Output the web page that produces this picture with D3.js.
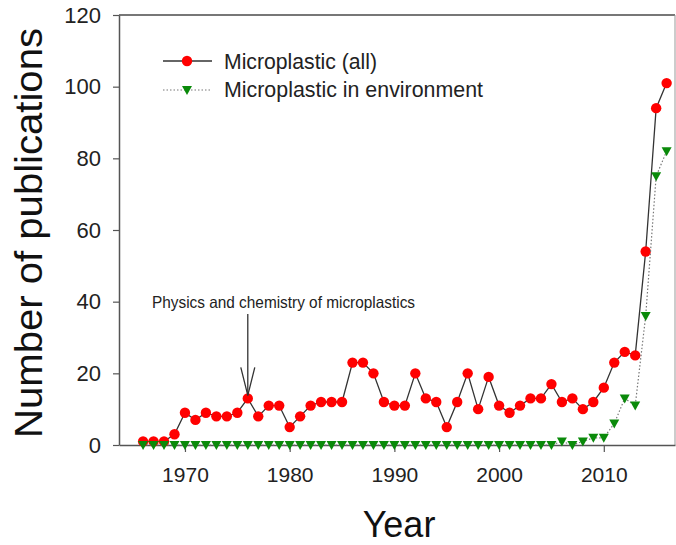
<!DOCTYPE html>
<html>
<head>
<meta charset="utf-8">
<script src="https://cdn.jsdelivr.net/npm/d3@7"></script>
<style>
  html, body { margin: 0; padding: 0; background: #fff; }
  svg { display: block; font-family: Arial, "Liberation Sans", sans-serif; }
</style>
</head>
<body>
<svg id="chart" width="676" height="545"></svg>
<script>
const years = d3.range(1966, 2017);
const allPubs = [1,1,1,3,9,7,9,8,8,9,
                 13,8,11,11,5,8,11,12,12,12,
                 23,23,20,12,11,11,20,13,12,5,
                 12,20,10,19,11,9,11,13,13,17,
                 12,13,10,12,16,23,26,25,54,94,101];
const envPubs = [0,0,0,0,0,0,0,0,0,0,
                 0,0,0,0,0,0,0,0,0,0,
                 0,0,0,0,0,0,0,0,0,0,
                 0,0,0,0,0,0,0,0,0,0,
                 1,0,1,2,2,6,13,11,36,75,82];
const xTicks = [1970, 1980, 1990, 2000, 2010];
const yTicks = [0, 20, 40, 60, 80, 100, 120];
const seriesNames = ["Microplastic (all)", "Microplastic in environment"];
const annotationText = "Physics and chemistry of microplastics";
const annotationYear = 1976;

(function () {
const svg = d3.select("#chart");
const pL = 119, pR = 675, pT = 15, pB = 445;

const x = d3.scaleLinear().domain([1963.7, 2016.8]).range([pL, pR]);
const y = d3.scaleLinear().domain([0, 120]).range([pB, pT]);

const axisColor = "#555";

// frame (top & right)
svg.append("line").attr("x1", pL).attr("x2", pR).attr("y1", pT).attr("y2", pT)
  .attr("stroke", "#777").attr("stroke-width", 2);
svg.append("line").attr("x1", pR).attr("x2", pR).attr("y1", pT).attr("y2", pB)
  .attr("stroke", "#999").attr("stroke-width", 1);

// y axis
const gy = svg.append("g").attr("transform", `translate(${pL},0)`)
  .call(d3.axisLeft(y).tickValues(yTicks).tickSize(6).tickPadding(12).tickSizeOuter(0));
gy.select(".domain").attr("stroke", axisColor).attr("stroke-width", 1.5);
gy.selectAll(".tick line").attr("stroke", axisColor).attr("stroke-width", 1.2);
gy.selectAll(".tick text").attr("font-size", 22).attr("fill", "#222")
  .attr("font-family", "Arial, 'Liberation Sans', sans-serif");

// x axis
const gx = svg.append("g").attr("transform", `translate(0,${pB})`)
  .call(d3.axisBottom(x).tickValues(xTicks).tickFormat(d3.format("d")).tickSize(7).tickPadding(15).tickSizeOuter(0));
gx.select(".domain").attr("stroke", axisColor).attr("stroke-width", 1.5);
gx.selectAll(".tick line").attr("stroke", axisColor).attr("stroke-width", 1.2);
gx.selectAll(".tick text").attr("font-size", 21).attr("fill", "#222")
  .attr("font-family", "Arial, 'Liberation Sans', sans-serif");

// axis titles
svg.append("text").attr("x", 399).attr("y", 537).attr("text-anchor", "middle")
  .attr("font-size", 36).attr("fill", "#111").text("Year");
svg.append("text").attr("transform", "translate(42,233) rotate(-90)")
  .attr("text-anchor", "middle").attr("font-size", 39).attr("fill", "#111")
  .attr("textLength", 410).attr("lengthAdjust", "spacingAndGlyphs")
  .text("Number of publications");

// series lines
const allData = years.map((yr, i) => ({year: yr, v: allPubs[i]}));
const envData = years.map((yr, i) => ({year: yr, v: envPubs[i]}));
const line = d3.line().x(d => x(d.year)).y(d => y(d.v));

svg.append("path").datum(allData).attr("d", line)
  .attr("fill", "none").attr("stroke", "#333").attr("stroke-width", 1.3);
svg.selectAll("circle.all").data(allData).enter().append("circle")
  .attr("class", "all").attr("cx", d => x(d.year)).attr("cy", d => y(d.v))
  .attr("r", 5.2).attr("fill", "#ff0000");

svg.append("path").datum(envData).attr("d", line)
  .attr("fill", "none").attr("stroke", "#777").attr("stroke-width", 1.2)
  .attr("stroke-dasharray", "1.5,2");
const tri = "M-5,-4L5,-4L0,5Z";
svg.selectAll("path.env").data(envData).enter().append("path")
  .attr("class", "env").attr("d", tri)
  .attr("transform", d => `translate(${x(d.year)},${y(d.v)})`)
  .attr("fill", "#0a8a0a");

// annotation
const ax = x(annotationYear);
const ai = years.indexOf(annotationYear);
const tipY = y(allPubs[ai]) - 3;
svg.append("text").attr("x", 152).attr("y", 308)
  .attr("font-size", 16.5).attr("fill", "#222")
  .attr("textLength", 263).attr("lengthAdjust", "spacingAndGlyphs")
  .text(annotationText);
svg.append("line").attr("x1", ax).attr("x2", ax).attr("y1", 314).attr("y2", tipY)
  .attr("stroke", "#333").attr("stroke-width", 1.3);
svg.append("path").attr("d", `M${ax - 7},${tipY - 28}L${ax},${tipY}L${ax + 7},${tipY - 28}`)
  .attr("fill", "none").attr("stroke", "#333").attr("stroke-width", 1.3);

// legend
const lg = svg.append("g");
lg.append("line").attr("x1", 163).attr("x2", 212).attr("y1", 61).attr("y2", 61)
  .attr("stroke", "#333").attr("stroke-width", 1.3);
lg.append("circle").attr("cx", 187).attr("cy", 61).attr("r", 5.2).attr("fill", "#ff0000");
lg.append("line").attr("x1", 163).attr("x2", 212).attr("y1", 90).attr("y2", 90)
  .attr("stroke", "#777").attr("stroke-width", 1.2).attr("stroke-dasharray", "1.5,2");
lg.append("path").attr("d", tri).attr("transform", "translate(187,90)").attr("fill", "#0a8a0a");
lg.append("text").attr("x", 224).attr("y", 69).attr("font-size", 21.4).attr("fill", "#222")
  .attr("textLength", 153).attr("lengthAdjust", "spacingAndGlyphs").text(seriesNames[0]);
lg.append("text").attr("x", 224).attr("y", 97).attr("font-size", 21.4).attr("fill", "#222")
  .attr("textLength", 259).attr("lengthAdjust", "spacingAndGlyphs").text(seriesNames[1]);
})();
</script>
</body>
</html>
